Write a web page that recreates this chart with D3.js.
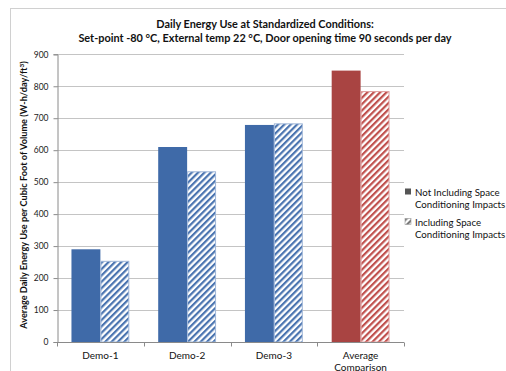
<!DOCTYPE html>
<html><head><meta charset="utf-8">
<script src="https://cdn.jsdelivr.net/npm/d3@7"></script>
<style>html,body{margin:0;background:#fff;overflow:hidden}svg{display:block}text{font-family:Lato,"Open Sans",sans-serif}</style>
</head><body><svg id="c" width="506" height="371"></svg>
<script>
const categories = ["Demo-1","Demo-2","Demo-3","Average Comparison"];
const notIncluding = [290, 610, 679, 849];
const including = [254, 534, 684, 785];
const yTicks = [0,100,200,300,400,500,600,700,800,900];
const seriesNames = ["Not Including Space Conditioning Impacts","Including Space Conditioning Impacts"];

const svg = d3.select("#c");
const W=506,H=371;
const x0=d3.scaleBand().domain(categories).range([57,404]).paddingInner(0.333).paddingOuter(0.1667);
const y=d3.scaleLinear().domain([0,900]).range([342,54.3]);

// outer border
svg.append("rect").attr("x",10.5).attr("y",8.5).attr("width",W-10).attr("height",H).attr("fill","none").attr("stroke","#d0d0d0");

const defs=svg.append("defs");
function hatch(id,color){
  const p=defs.append("pattern").attr("id",id).attr("patternUnits","userSpaceOnUse").attr("width",4.5).attr("height",4.5).attr("patternTransform","rotate(45)");
  p.append("rect").attr("width",4.5).attr("height",4.5).attr("fill","#fff");
  p.append("rect").attr("x",0).attr("width",2.2).attr("height",4.5).attr("fill",color);
}
hatch("hb","#4a74b0");
hatch("hr","#c0504d");
hatch("hg","#777");

// gridlines
svg.append("g").selectAll("line").data(yTicks.slice(1)).join("line")
  .attr("x1",57).attr("x2",404).attr("y1",d=>Math.round(y(d))+0.5).attr("y2",d=>Math.round(y(d))+0.5)
  .attr("stroke","#c4c4c4").attr("stroke-width",1);

// y axis
const ya=svg.append("g").attr("transform","translate(57.5,0)")
  .call(d3.axisLeft(y).tickValues(yTicks).tickSize(4).tickPadding(5).tickFormat(d3.format("d")));
ya.selectAll("path,line").attr("stroke","#8a8a8a");
ya.selectAll("text").attr("font-size",8.5).attr("fill","#222").style("font-family","Lato,sans-serif");

// bars
const colorsSolid=["#3f6aa8","#3f6aa8","#3f6aa8","#a94442"];
const hatchIds=["hb","hb","hb","hr"];
const bw=x0.bandwidth()/2;
const g=svg.append("g");
g.selectAll("rect.s").data(notIncluding).join("rect").attr("class","s")
  .attr("x",(d,i)=>x0(categories[i])).attr("width",bw)
  .attr("y",d=>y(d)).attr("height",d=>y(0)-y(d))
  .attr("fill",(d,i)=>colorsSolid[i]);
g.selectAll("rect.h").data(including).join("rect").attr("class","h")
  .attr("x",(d,i)=>x0(categories[i])+bw+0.5).attr("width",bw-1)
  .attr("y",d=>y(d)+0.5).attr("height",d=>y(0)-y(d)-0.5)
  .attr("fill",(d,i)=>"url(#"+hatchIds[i]+")")
  .attr("stroke",(d,i)=>i===3?"#e0a0a0":"#9fb6d8").attr("stroke-width",1);

// x axis
const xa=svg.append("g").attr("transform","translate(0,342.5)");
xa.append("line").attr("x1",57).attr("x2",404).attr("stroke","#8a8a8a");
xa.selectAll("line.t").data(d3.range(categories.length+1)).join("line").attr("class","t")
  .attr("x1",i=>Math.round(57+i*347/4)+0.5).attr("x2",i=>Math.round(57+i*347/4)+0.5).attr("y1",0).attr("y2",4).attr("stroke","#8a8a8a");
const labLines=[["Demo-1"],["Demo-2"],["Demo-3"],["Average","Comparison"]];
categories.forEach((c,i)=>{
  const cx=x0(c)+x0.bandwidth()/2;
  labLines[i].forEach((t,j)=>{
    svg.append("text").attr("x",cx).attr("y",358.5+j*12.5).attr("text-anchor","middle").attr("font-size",10).attr("fill","#111").text(t);
  });
});

// title
svg.append("text").attr("x",265).attr("y",28).attr("text-anchor","middle").attr("font-size",10.9).attr("font-weight","bold").attr("fill","#111").text("Daily Energy Use at Standardized Conditions:");
svg.append("text").attr("x",265).attr("y",42).attr("text-anchor","middle").attr("font-size",10.9).attr("font-weight","bold").attr("fill","#111").text("Set-point -80 °C, External temp 22 °C, Door opening time 90 seconds per day");

// y label
const yl=svg.append("text").attr("transform","translate(26.5,195) rotate(-90)").attr("text-anchor","middle").attr("font-size",9.2).attr("font-weight","bold").attr("fill","#111");
yl.append("tspan").text("Average Daily Energy Use per Cubic Foot of Volume  (W-h/day/ft");
yl.append("tspan").attr("font-size",6.3).attr("dy",-3).text("3");
yl.append("tspan").attr("dy",3).text(")");

// legend
const leg=svg.append("g");
const legFill=["#555","url(#hg)"];
const legLines=[["Not Including Space","Conditioning Impacts"],["Including Space","Conditioning Impacts"]];
legLines.forEach((ls,i)=>{
  const yy=192+i*30;
  leg.append("rect").attr("x",405).attr("y",yy-3.5).attr("width",6).attr("height",6).attr("fill",legFill[i]).attr("stroke",i?"#999":"none").attr("stroke-width",0.6);
  ls.forEach((t,j)=>leg.append("text").attr("x",415).attr("y",yy+3.8+j*12.5).attr("font-size",9.7).attr("fill","#111").text(t));
});
</script></body></html>
